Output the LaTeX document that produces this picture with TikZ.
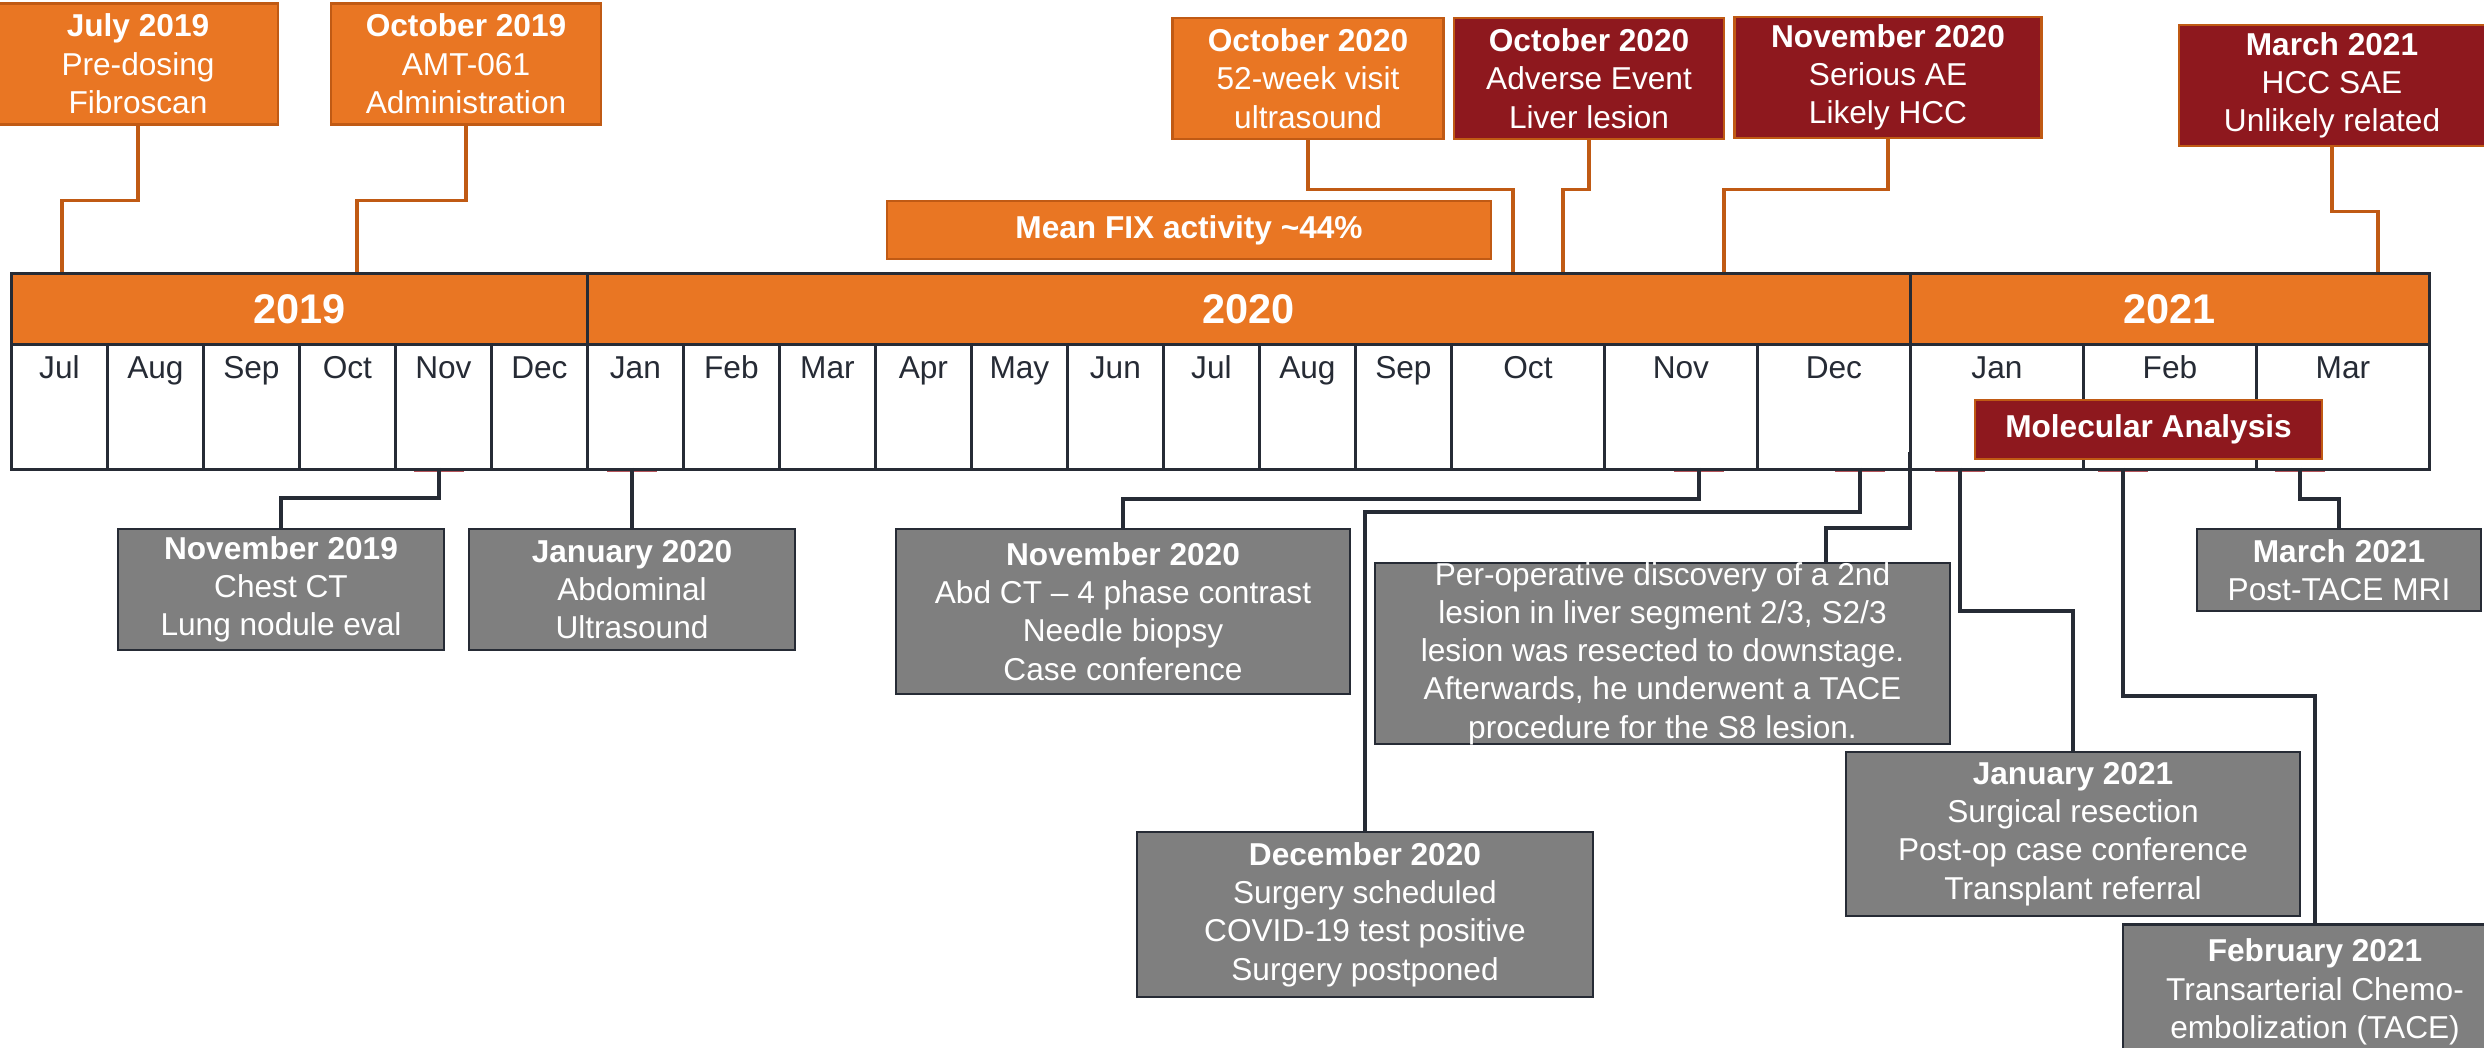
\documentclass[tikz,border=0pt]{standalone}
\usepackage{fontspec}
\setmainfont{Liberation Sans}
\usetikzlibrary{calc}

\definecolor{tlorange}{HTML}{E97623}
\definecolor{tlorangedk}{HTML}{C05A14}
\definecolor{tlred}{HTML}{8E181E}
\definecolor{tlgrey}{HTML}{7F7F7F}
\definecolor{tlink}{HTML}{262B35}
\definecolor{tltick}{HTML}{B5545A}

\begin{document}
\begin{tikzpicture}[x=0.1mm, y=-0.1mm, font=\fontsize{9}{10.9}\selectfont,
  yearbar/.style={draw=tlink, line width=0.8pt, fill=tlorange, text=white, anchor=north west, inner sep=0pt, minimum height=71*0.1mm, font=\fontsize{11.8}{14}\selectfont\bfseries},
  monthcell/.style={draw=tlink, line width=0.8pt, fill=white, anchor=north west, inner sep=0pt, minimum height=125*0.1mm},
  monthlbl/.style={text=tlink, anchor=base, inner sep=0pt},
  topbox/.style={draw=tlorangedk, line width=0.8pt, text=white, align=center, inner sep=0pt, minimum height=121*0.1mm},
  orangebox/.style={topbox, fill=tlorange},
  redbox/.style={topbox, fill=tlred},
  greybox/.style={draw=tlink, line width=0.8pt, fill=tlgrey, text=white, align=center, inner sep=0pt},
  upline/.style={draw=tlorangedk, line width=0.9pt},
  downline/.style={draw=tlink, line width=0.9pt},
  evtick/.style={draw=tltick, line width=0.5pt}
]
  \clip (0,0) rectangle (2484,1048);
  \fill[white] (0,0) rectangle (2484,1048);

  % month grid
  \foreach \mx/\mw/\mname [count=\i] in {10/96/Jul, 106/96/Aug, 202/96/Sep, 298/96/Oct, 394/96/Nov, 490/96/Dec,
      586/96/Jan, 682/96/Feb, 778/96/Mar, 874/96/Apr, 970/96/May, 1066/96/Jun, 1162/96/Jul, 1258/96/Aug, 1354/96/Sep,
      1450/153/Oct, 1603/153/Nov, 1756/153/Dec, 1909/173/Jan, 2082/173/Feb, 2255/173/Mar}{
    \node[monthcell, minimum width=\mw*0.1mm] (m\i) at (\mx,343) {};
    \node[monthlbl] (ml\i) at ($(m\i.north)+(0,36)$) {\mname};
  }

  % years
  \node[yearbar, minimum width=576*0.1mm] (y2019) at (10,272) {2019};
  \node[yearbar, minimum width=1323*0.1mm] (y2020) at (586,272) {2020};
  \node[yearbar, minimum width=519*0.1mm] (y2021) at (1909,272) {2021};

  % events above the bar
  \node[orangebox, minimum width=280*0.1mm] (jul19) at (138,64) {\textbf{July 2019}\\Pre-dosing\\Fibroscan};
  \node[orangebox, minimum width=270*0.1mm] (oct19) at (466,64) {\textbf{October 2019}\\AMT-061\\Administration};
  \node[orangebox, minimum width=271*0.1mm] (oct20us) at (1308,78.5) {\textbf{October 2020}\\52-week visit\\ultrasound};
  \node[redbox, minimum width=270*0.1mm] (oct20ae) at (1589,78.5) {\textbf{October 2020}\\Adverse Event\\Liver lesion};
  \node[redbox, minimum width=307*0.1mm] (nov20sae) at (1888,77.5) {\textbf{November 2020}\\Serious AE\\Likely HCC};
  \node[redbox, minimum width=306*0.1mm] (mar21sae) at (2332,85.5) {\textbf{March 2021}\\HCC SAE\\Unlikely related};
  \node[orangebox, minimum width=604*0.1mm, minimum height=58*0.1mm] (fix) at (1189,230) {\textbf{Mean FIX activity \textasciitilde44\%}};
  \node[redbox, minimum width=347*0.1mm, minimum height=59*0.1mm] (molec) at (2148.5,429.5) {\textbf{Molecular Analysis}};

  \coordinate (t-jul19) at (62,272);
  \coordinate (t-oct19) at (357,272);
  \coordinate (t-oct20us) at (1513,272);
  \coordinate (t-oct20ae) at (1563,272);
  \coordinate (t-nov20) at (1724,272);
  \coordinate (t-mar21) at (2378,272);
  \draw[upline] (jul19.south) -- ++(0,74.5) -| (t-jul19);
  \draw[upline] (oct19.south) -- ++(0,74.5) -| (t-oct19);
  \draw[upline] (oct20us.south) -- ++(0,49) -| (t-oct20us);
  \draw[upline] (oct20ae.south) -- ++(0,49) -| (t-oct20ae);
  \draw[upline] (nov20sae.south) -- ++(0,50) -| (t-nov20);
  \draw[upline] (mar21sae.south) -- ++(0,64) -| (t-mar21);

  % events below the bar
  \node[greybox, minimum width=326*0.1mm, minimum height=121*0.1mm] (nov19ct) at (281,589.5) {\textbf{November 2019}\\Chest CT\\Lung nodule eval};
  \node[greybox, minimum width=326*0.1mm, minimum height=121*0.1mm] (jan20us) at (632,589.5) {\textbf{January 2020}\\Abdominal\\Ultrasound};
  \node[greybox, minimum width=454*0.1mm, minimum height=165*0.1mm] (nov20ct) at (1123,611.5) {\textbf{November 2020}\\Abd CT \textendash{} 4 phase contrast\\Needle biopsy\\Case conference};
  \node[greybox, minimum width=575*0.1mm, minimum height=181*0.1mm] (perop) at (1662.5,653.5) {};
  \node[text=white, align=center, inner sep=0pt] (perop-txt) at (perop.center) {Per-operative discovery of a 2nd\\lesion in liver segment 2/3, S2/3\\lesion was resected to downstage.\\Afterwards, he underwent a TACE\\procedure for the S8 lesion.};
  \node[greybox, minimum width=456*0.1mm, minimum height=165*0.1mm] (dec20sx) at (1365,914.5) {\textbf{December 2020}\\Surgery scheduled\\COVID-19 test positive\\Surgery postponed};
  \node[greybox, minimum width=454*0.1mm, minimum height=164*0.1mm] (jan21sr) at (2073,834) {\textbf{January 2021}\\Surgical resection\\Post-op case conference\\Transplant referral};
  \node[greybox, minimum width=384*0.1mm, minimum height=135*0.1mm, anchor=north] (feb21tace) at (2315,923) {\textbf{February 2021}\\Transarterial Chemo-\\embolization (TACE)};
  \node[greybox, minimum width=284*0.1mm, minimum height=82*0.1mm] (mar21mri) at (2339,570) {\textbf{March 2021}\\Post-TACE MRI};

  \coordinate (b-nov19) at (439,468);
  \coordinate (b-jan20) at (632,468);
  \coordinate (b-nov20) at (1699,468);
  \coordinate (b-dec20) at (1860,468);
  \coordinate (b-2021) at (1910,452);
  \coordinate (b-jan21) at (1960,468);
  \coordinate (b-feb21) at (2123,468);
  \coordinate (b-mar21) at (2300,468);
  \foreach \b in {nov19,jan20,nov20,dec20,jan21,feb21,mar21}
    \draw[evtick] ($(b-\b)+(-25,3.5)$) -- ++(50,0);

  \draw[downline] (b-nov19) -- ++(0,30) -| (nov19ct.north);
  \draw[downline] (b-jan20) -- (jan20us);
  \draw[downline] (b-nov20) -- ++(0,31) -| (nov20ct.north);
  \draw[downline] (b-dec20) -- ++(0,44) -| (dec20sx.north);
  \draw[downline] (b-2021) -- ++(0,76) -| ($(perop.north)+(163.5,0)$);
  \draw[downline] (b-jan21) -- ++(0,143) -| (jan21sr.north);
  \draw[downline] (b-feb21) -- ++(0,228) -| (feb21tace.north);
  \draw[downline] (b-mar21) -- ++(0,31) -| (mar21mri.north);
\end{tikzpicture}
\end{document}
